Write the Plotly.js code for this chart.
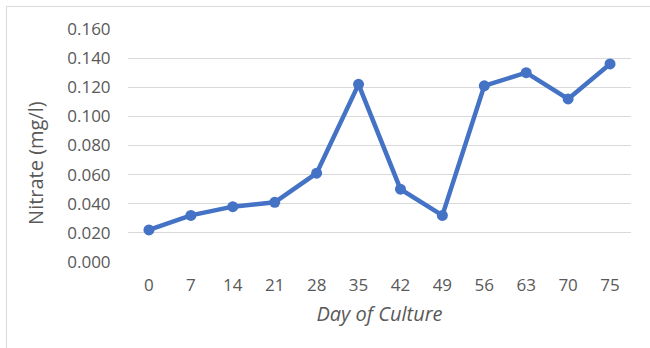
<!DOCTYPE html>
<html>
<head>
<meta charset="utf-8">
<script src="https://cdn.plot.ly/plotly-3.0.1.min.js"></script>
<style>
  html, body { margin: 0; padding: 0; background: #ffffff; }
  #frame { position: absolute; left: 0; top: 0; width: 650px; height: 348px; }
  #border { position: absolute; left: 6px; top: 6px; width: 660px; height: 360px;
            border-left: 1px solid #d9d9d9; border-top: 1px solid #d9d9d9; pointer-events: none; }
  #chart { position: absolute; left: 0; top: 0; width: 650px; height: 348px; }
</style>
</head>
<body>
<div id="frame">
  <div id="chart"></div>
  <div id="border"></div>
</div>
<script>
// Nitrate concentration sampled over the culture period
const days = ['0', '7', '14', '21', '28', '35', '42', '49', '56', '63', '70', '75'];
const nitrate = [0.022, 0.032, 0.038, 0.041, 0.061, 0.122, 0.050, 0.032, 0.121, 0.130, 0.112, 0.136];
const yTicks = [0, 0.02, 0.04, 0.06, 0.08, 0.10, 0.12, 0.14, 0.16];

const blue = '#4472C4';
const grey = '#595959';
const font = '"Open Sans", Lato, "Liberation Sans", sans-serif';

Plotly.newPlot('chart', [{
  type: 'scatter',
  mode: 'lines+markers',
  x: days,
  y: nitrate,
  line: { color: blue, width: 4.5 },
  marker: { color: blue, size: 11 },
  hoverinfo: 'skip'
}], {
  width: 650,
  height: 348,
  margin: { l: 128, r: 19, t: 29, b: 86 },
  paper_bgcolor: '#ffffff',
  plot_bgcolor: '#ffffff',
  showlegend: false,
  font: { family: font, size: 17, color: grey },
  xaxis: {
    type: 'category',
    range: [-0.5, 11.5],
    showgrid: false,
    zeroline: false,
    showline: false,
    ticks: 'outside',
    ticklen: 8,
    tickcolor: 'rgba(0,0,0,0)',
    tickfont: { family: font, size: 17, color: grey },
    title: { text: 'Day of Culture', standoff: 11,
             font: { family: font, size: 20, color: grey, style: 'italic' } }
  },
  yaxis: {
    range: [0, 0.16],
    tickvals: yTicks,
    tickformat: '.3f',
    showgrid: true,
    gridcolor: '#d9d9d9',
    gridwidth: 1,
    zeroline: false,
    showline: false,
    ticks: 'outside',
    ticklen: 13,
    tickcolor: 'rgba(0,0,0,0)',
    tickfont: { family: font, size: 17, color: grey }
  },
  annotations: [{
    // y-axis title, sitting a little below the plot's vertical centre
    text: 'Nitrate (mg/l)',
    textangle: -90,
    xref: 'paper', yref: 'paper',
    x: -0.183, y: 0.425,
    xanchor: 'center', yanchor: 'middle',
    showarrow: false,
    font: { family: font, size: 20, color: grey }
  }]
}, { displayModeBar: false, staticPlot: true });
</script>
</body>
</html>
